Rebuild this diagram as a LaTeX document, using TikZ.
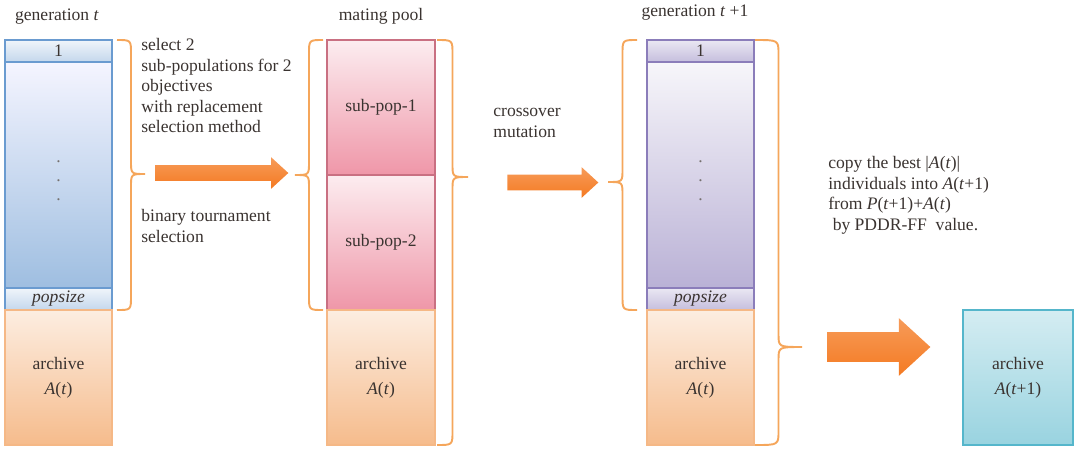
\documentclass[tikz,border=0pt]{standalone}
\usepackage{fontspec}
\setmainfont{Liberation Serif}
\usepackage{tikz}
\usetikzlibrary{shapes.arrows,calc}
\definecolor{ink}{HTML}{3A3330}
\definecolor{braceor}{HTML}{F5A65B}
\definecolor{arrowor}{HTML}{F47A22}
\definecolor{blueln}{HTML}{6A9BD0}
\definecolor{pinkln}{HTML}{EC8499}
\definecolor{lilacln}{HTML}{8B7DBA}
\definecolor{peachln}{HTML}{F5B886}
\definecolor{cyanln}{HTML}{55B6CB}

\tikzset{
  cell/.style={draw, line width=0.7pt, inner sep=0, text=ink, align=center, shading=axis},
  bluecell/.style={cell, draw=blueln, minimum width=2.14cm, top color=blue!4!white, bottom color=blueln!65!white},
  bluecap/.style={cell, draw=blueln, minimum width=2.14cm, minimum height=0.44cm, top color=blueln!10!white, bottom color=blueln!40!white},
  lilaccell/.style={cell, draw=lilacln, minimum width=2.14cm, top color=lilacln!7!white, bottom color=lilacln!60!white},
  lilaccap/.style={cell, draw=lilacln, minimum width=2.14cm, minimum height=0.44cm, top color=lilacln!18!white, bottom color=lilacln!50!white},
  pinkcell/.style={cell, draw=pinkln!85!black, minimum width=2.16cm, minimum height=2.7cm, top color=pinkln!15!white, bottom color=pinkln!85!white},
  archcell/.style={cell, draw=peachln, minimum height=2.7cm, font=\fontsize{10}{14}\selectfont, top color=peachln!25!white, bottom color=peachln!95!white},
  lbl/.style={text=ink, inner sep=0},
  note/.style={lbl, align=left, anchor=north west},
  dotmark/.style={text=ink!70, inner sep=0},
  fatarrow/.style={single arrow, anchor=tail, inner xsep=0, single arrow tip angle=85, single arrow head indent=0, shading=axis, top color=arrowor!75!white, bottom color=arrowor},
  curly/.style={draw=braceor, line width=1.1pt}
}
% base x, tip x, top y, bottom y, tip y
\newcommand{\sidebrace}[5]{%
  \draw[curly] (#1,#3) .. controls ({(#1+#2)/2},#3) .. ({(#1+#2)/2},#3+14)
    -- ({(#1+#2)/2},#5-13) .. controls ({(#1+#2)/2},#5) .. (#2,#5)
    .. controls ({(#1+#2)/2},#5) .. ({(#1+#2)/2},#5+13)
    -- ({(#1+#2)/2},#4-14) .. controls ({(#1+#2)/2},#4) .. (#1,#4);}

\begin{document}
\begin{tikzpicture}[x=0.02cm,y=-0.02cm,font=\fontsize{10}{11.7}\selectfont]
\useasboundingbox (0,0) rectangle (1075,454);

% generation t
\node[lbl] (gtitle) at (57,17) {generation \textit{t}};
\node[bluecap] (g1) at (58.5,51) {1};
\node[bluecell, minimum height=4.52cm] (gmid) at (58.5,175) {};
\node[bluecap] (gpop) at (58.5,299) {\textit{popsize}};
\node[archcell, minimum width=2.14cm] (garch) at (58.5,377.5) {archive\\\textit{A}(\textit{t})};
\foreach \y in {162,181,200} \node[dotmark] at (58.5,\y) {.};

% mating pool
\node[lbl] (mtitle) at (381,16) {mating pool};
\node[pinkcell] (sp1) at (381,107.5) {sub-pop-1};
\node[pinkcell] (sp2) at (381,242.5) {sub-pop-2};
\node[archcell, minimum width=2.16cm] (marc) at (381,377.5) {archive\\\textit{A}(\textit{t})};

% generation t+1
\node[lbl] (htitle) at (695,13) {generation \textit{t} +1};
\node[lilaccap] (h1) at (700.5,51) {1};
\node[lilaccell, minimum height=4.52cm] (hmid) at (700.5,175) {};
\node[lilaccap] (hpop) at (700.5,299) {\textit{popsize}};
\node[archcell, minimum width=2.14cm] (harch) at (700.5,377.5) {archive\\\textit{A}(\textit{t})};
\foreach \y in {162,181,200} \node[dotmark] at (700.5,\y) {.};

% new archive
\node[cell, draw=cyanln, minimum width=2.2cm, minimum height=2.7cm, font=\fontsize{10}{14}\selectfont, top color=cyanln!25!white, bottom color=cyanln!60!white] (narch) at (1018,377.5) {archive\\\textit{A}(\textit{t}+1)};

% texts
\node[note] (selnote) at (141,38) {select 2\\sub-populations for 2\\objectives\\with replacement\\selection method};
\node[note] (binnote) at (141,209) {binary tournament\\selection};
\node[note] (varnote) at (493,108) {crossover\\mutation};
\node[note] (copynote) at (828,156) {copy the best |\textit{A}(\textit{t})|\\individuals into \textit{A}(\textit{t}+1)\\from \textit{P}(\textit{t}+1)+\textit{A}(\textit{t})\\\ by PDDR-FF\ \ value.};

% block arrows
\node[fatarrow, minimum height=2.66cm, inner ysep=0.15cm, single arrow head extend=0.16cm] (a1) at (155,173) {};
\node[fatarrow, minimum height=1.82cm, inner ysep=0.15cm, single arrow head extend=0.15cm] (a2) at (507,182.5) {};
\node[fatarrow, minimum height=2.06cm, inner ysep=0.29cm, single arrow head extend=0.28cm] (a3) at (827,347) {};

% braces
\sidebrace{117}{145}{40}{310}{174}
\sidebrace{323}{295}{40}{310}{175}
\sidebrace{437}{468}{40}{445}{177}
\sidebrace{637}{608}{40}{310}{182}
\sidebrace{755}{802}{40}{445}{347}
\end{tikzpicture}
\end{document}
